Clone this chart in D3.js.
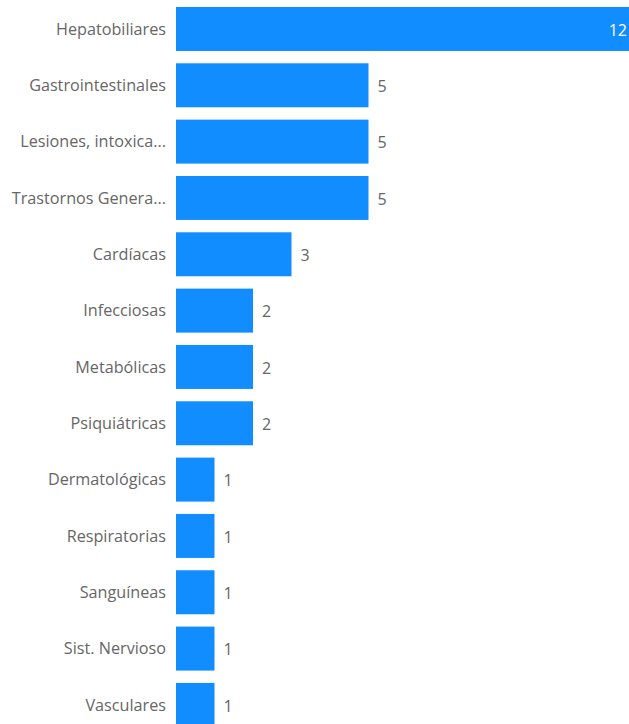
<!DOCTYPE html>
<html>
<head>
<meta charset="utf-8">
<script src="https://cdn.jsdelivr.net/npm/d3@7"></script>
<style>
  body { margin: 0; background: #fff; }
  svg { display: block; }
  .cat { font-family: "Open Sans", "Noto Sans", sans-serif; font-size: 16.2px; fill: #666666; }
  .val { font-family: "Open Sans", "Noto Sans", sans-serif; font-size: 16px; fill: #666666; }
</style>
</head>
<body>
<div id="chart"></div>
<script>
// categories and counts
var categories = ["Hepatobiliares", "Gastrointestinales", "Lesiones, intoxica...", "Trastornos Genera...",
  "Cardíacas", "Infecciosas", "Metabólicas", "Psiquiátricas", "Dermatológicas",
  "Respiratorias", "Sanguíneas", "Sist. Nervioso", "Vasculares"];
var counts = [12, 5, 5, 5, 3, 2, 2, 2, 1, 1, 1, 1, 1];

var svgWidth = 629, svgHeight = 724;
var barLeft = 176;

var svg = d3.select("#chart")
  .append("svg")
  .attr("width", svgWidth)
  .attr("height", svgHeight);

var data = categories.map(function(c, i) { return { cat: c, value: counts[i] }; });

// x scale: one unit is about 38.5px, so the biggest bar runs past the edge
var xScale = d3.scaleLinear()
  .domain([0, 12])
  .range([barLeft, barLeft + 462]);

var step = 56.33;
var yScale = d3.scaleBand()
  .domain(categories)
  .range([0.8, 0.8 + step * categories.length])
  .paddingInner(0.219)
  .paddingOuter(0.1095);

var rows = svg.selectAll("g.row")
  .data(data)
  .enter()
  .append("g")
  .attr("class", "row");

rows.append("rect")
  .attr("x", xScale(0))
  .attr("y", d => yScale(d.cat))
  .attr("width", d => xScale(d.value) - xScale(0))
  .attr("height", yScale.bandwidth())
  .attr("fill", "#118DFF");

// category labels
rows.append("text")
  .attr("class", "cat")
  .attr("x", barLeft - 10)
  .attr("y", d => yScale(d.cat) + yScale.bandwidth() / 2)
  .attr("dy", "0.35em")
  .attr("text-anchor", "end")
  .text(d => d.cat);

// value labels: outside the bar, or inside if the bar runs off the edge
rows.append("text")
  .attr("class", "val")
  .attr("x", function(d) {
    var end = xScale(d.value);
    return end > svgWidth - 30 ? svgWidth - 2 : end + 9;
  })
  .attr("y", d => yScale(d.cat) + yScale.bandwidth() / 2 + 1)
  .attr("dy", "0.35em")
  .attr("text-anchor", d => xScale(d.value) > svgWidth - 30 ? "end" : "start")
  .style("fill", d => xScale(d.value) > svgWidth - 30 ? "#ffffff" : null)
  .text(d => d.value);
</script>
</body>
</html>
